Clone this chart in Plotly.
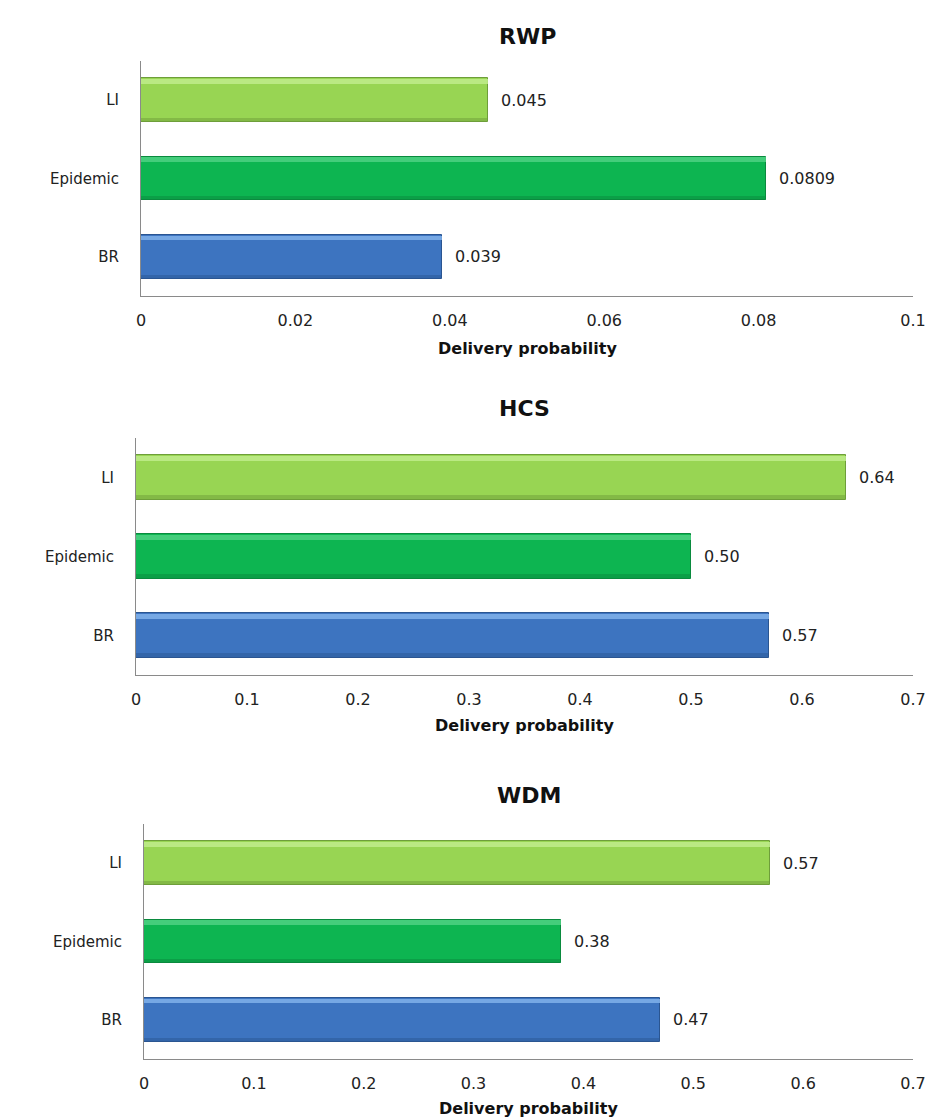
import plotly.graph_objects as go

# ---- data -------------------------------------------------------------
categories = ["BR", "Epidemic", "LI"]

rwp_values = [0.039, 0.0809, 0.045]
hcs_values = [0.57, 0.50, 0.64]
wdm_values = [0.47, 0.38, 0.57]

rwp_labels = ["0.039", "0.0809", "0.045"]
hcs_labels = ["0.57", "0.50", "0.64"]
wdm_labels = ["0.47", "0.38", "0.57"]

panel_titles = ["RWP", "HCS", "WDM"]
axis_title = "Delivery probability"

rwp_ticks = [0, 0.02, 0.04, 0.06, 0.08, 0.1]
rwp_ticktext = ["0", "0.02", "0.04", "0.06", "0.08", "0.1"]
prob_ticks = [0, 0.1, 0.2, 0.3, 0.4, 0.5, 0.6, 0.7]
prob_ticktext = ["0", "0.1", "0.2", "0.3", "0.4", "0.5", "0.6", "0.7"]

# ---- styling ----------------------------------------------------------
W, H = 936, 1119
main_col = ["#3d74c0", "#0db551", "#98d553"]
light_col = ["#80b2ea", "#4fd183", "#c0ec8c"]
dark_col = ["#2a5591", "#0a8a3e", "#6e9e3a"]
FONT = "DejaVu Sans"
TXT = "#222222"
AX = "#8a8a8a"

BAR_W = 0.56
HL_W = 0.06
SH_W = 0.045

# pixel geometry of each panel: (x_left, x_right, y_top, y_bottom)
panels = [
    (141, 913, 61, 296),
    (136, 913, 438, 675),
    (144, 913, 824, 1059),
]
title_y = [37, 409, 795]
axtitle_y = [348, 725, 1108]


def px_x(p):
    return p / W


def px_y(p):
    return 1 - p / H


values_all = [rwp_values, hcs_values, wdm_values]
labels_all = [rwp_labels, hcs_labels, wdm_labels]
ticks_all = [(rwp_ticks, rwp_ticktext, [0, 0.1]),
             (prob_ticks, prob_ticktext, [0, 0.7]),
             (prob_ticks, prob_ticktext, [0, 0.7])]

fig = go.Figure()
annotations = []

for i, vals in enumerate(values_all):
    sfx = "" if i == 0 else str(i + 1)
    xa, ya = "x" + sfx, "y" + sfx

    # main bar body
    fig.add_trace(go.Bar(
        x=vals, y=categories, orientation="h", xaxis=xa, yaxis=ya,
        width=BAR_W, offset=-BAR_W / 2,
        marker=dict(color=main_col, line=dict(color=dark_col, width=1)),
        hoverinfo="skip", showlegend=False,
    ))
    # lit upper bevel
    fig.add_trace(go.Bar(
        x=vals, y=categories, orientation="h", xaxis=xa, yaxis=ya,
        width=HL_W, offset=BAR_W / 2 - HL_W - 0.008,
        marker=dict(color=light_col, opacity=0.85, line=dict(width=0)),
        hoverinfo="skip", showlegend=False,
    ))
    # shaded lower bevel
    fig.add_trace(go.Bar(
        x=vals, y=categories, orientation="h", xaxis=xa, yaxis=ya,
        width=SH_W, offset=-BAR_W / 2 + 0.008,
        marker=dict(color=dark_col, opacity=0.5, line=dict(width=0)),
        hoverinfo="skip", showlegend=False,
    ))

    # value labels at the bar ends
    for cat, v, lab in zip(categories, vals, labels_all[i]):
        annotations.append(dict(
            x=v, y=cat, xref=xa, yref=ya, text=lab, showarrow=False,
            xanchor="left", yanchor="middle", xshift=11,
            font=dict(family=FONT, size=16, color=TXT),
        ))

    xl, xr, yt, yb = panels[i]
    tv, tt, rng = ticks_all[i]
    fig.update_layout(**{
        "xaxis" + sfx: dict(
            domain=[px_x(xl), px_x(xr)], range=rng, anchor=ya,
            tickvals=tv, ticktext=tt, showgrid=False, zeroline=False,
            showline=True, linecolor=AX, linewidth=1, ticks="",
            ticklabelstandoff=10, automargin=False,
            tickfont=dict(family=FONT, size=16, color=TXT),
        ),
        "yaxis" + sfx: dict(
            domain=[px_y(yb), px_y(yt)], range=[-0.5, 2.5], anchor=xa,
            type="category", categoryorder="array", categoryarray=categories,
            showgrid=False, zeroline=False, showline=True, linecolor=AX,
            linewidth=1, ticks="", ticklabelstandoff=18, automargin=False,
            tickfont=dict(family=FONT, size=15, color=TXT),
        ),
    })

    # panel title and axis title
    cx = (xl + xr) / 2 / W
    annotations.append(dict(
        x=cx, y=px_y(title_y[i]), xref="paper", yref="paper",
        text="<b>%s</b>" % panel_titles[i], showarrow=False,
        xanchor="center", yanchor="middle",
        font=dict(family=FONT, size=22, color="#111111"),
    ))
    annotations.append(dict(
        x=cx, y=px_y(axtitle_y[i]), xref="paper", yref="paper",
        text="<b>%s</b>" % axis_title, showarrow=False,
        xanchor="center", yanchor="middle",
        font=dict(family=FONT, size=16, color="#111111"),
    ))

fig.update_layout(
    width=W, height=H, margin=dict(l=0, r=0, t=0, b=0),
    paper_bgcolor="white", plot_bgcolor="white",
    barmode="overlay", bargap=0, annotations=annotations,
)

fig.write_html("out.html")
